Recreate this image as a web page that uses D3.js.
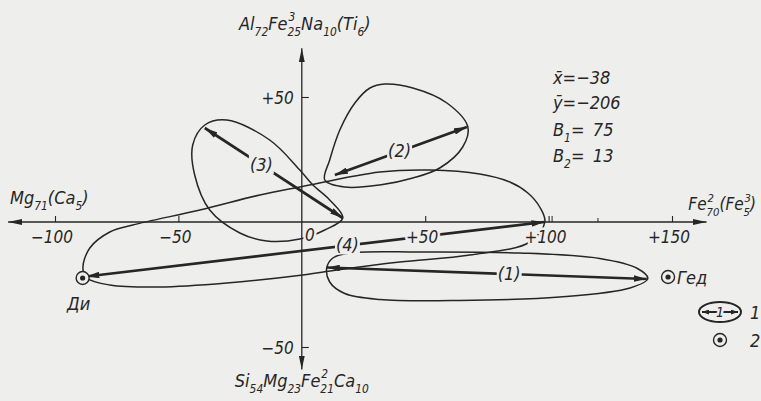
<!DOCTYPE html>
<html>
<head>
<meta charset="utf-8">
<script src="https://cdn.jsdelivr.net/npm/d3@7"></script>
<style>
  html, body { margin: 0; padding: 0; background: #eeeeec; }
  svg { display: block; }
  text { font-family: "Liberation Sans Narrow", "DejaVu Sans Condensed", sans-serif; font-style: italic; fill: #262626; }
</style>
</head>
<body>
<script>
// Tick values and labels of both axes
const xTickValues = [-100, -50, 50, 100, 150];
const xTickLabels = ["\u2212100", "\u221250", "+50", "+100", "+150"];
const xMinorTicks = [120];
const yTickValues = [50, -50];
const yTickLabels = ["+50", "\u221250"];

// Vectors: start and end point of each double-headed arrow
const vectorNames = ["(1)", "(2)", "(3)", "(4)"];
const vectorFrom = [[10.1, -18.2], [13.4, 18.8], [-39.3, 37.6], [-87.3, -21.8]];
const vectorTo   = [[139.8, -22.8], [66.9, 38.0], [16.6, 1.6], [98.3, 0]];
const labelAlong = [0.57, 0.49, 0.41, 0.57];

// Closed contours around each vector
const contour1 = [[10.1,-18.4],[12.6,-14.4],[19.4,-12.4],[47.8,-12],[88.3,-12.4],[120.7,-14.6],[136,-18.6],[140.2,-22.6],[133,-26.4],[104.5,-30],[64,-31.4],[31.6,-31],[17.4,-28.6],[11.3,-24]];
const contour2 = [[9.3,16.8],[11.3,24.8],[15.4,36.8],[21.5,47.6],[27.6,53.6],[33.6,55.2],[45,53.6],[58.8,47.6],[67.3,38],[65.2,30],[55.9,21.6],[45,17.6],[31.6,14.8],[17.4,14]];
const contour3 = [[16.6,1.6],[11.3,8.8],[4.5,14.8],[-0.8,20.8],[-13,32.8],[-30.4,40.8],[-39.3,38.8],[-44.2,30.8],[-43.4,18.8],[-37.3,4.8],[-25.1,-4.4],[-14.2,-7.6],[-0.8,-6.8],[9.3,-3.2]];
const contour4 = [[98.5,0],[96.4,6],[91.6,11.6],[84.3,16],[72.1,19.2],[51.9,20.8],[31.6,20],[-0.8,14],[-17,10.8],[-41.3,4.8],[-68.5,-1.2],[-77.8,-4],[-85.9,-10.4],[-88.7,-18.4],[-87.1,-22.4],[-77.8,-25.2],[-57.5,-26],[-30.4,-24.4],[0.4,-21.2],[14.2,-19.2],[39.7,-16],[68.1,-13.2],[92.4,-8]];
const contours = [contour1, contour2, contour3, contour4];

// End-member points
const pointNames = ["\u0414\u0438", "\u0413\u0435\u0434"];
const pointX = [-88.8, 148.4];
const pointY = [-22.4, -22.0];

// Statistics block
const statLines = [
  [{b: "x\u0304=\u221238"}],
  [{b: "y\u0304=\u2212206"}],
  [{b: "B", sub: "1"}, {b: "= \u200975"}],
  [{b: "B", sub: "2"}, {b: "= \u200913"}]
];

// Axis titles (base, subscript, superscript)
const titleTop = [{b: "Al", sub: "72"}, {b: "Fe", sub: "25", sup: "3"}, {b: "Na", sub: "10"}, {b: "(Ti", sub: "6"}, {b: ")"}];
const titleBottom = [{b: "Si", sub: "54"}, {b: " Mg", sub: "23"}, {b: "Fe", sub: "21", sup: "2"}, {b: "Ca", sub: "10"}];
const titleLeft = [{b: "Mg", sub: "71"}, {b: "(Ca", sub: "5"}, {b: ")"}];
const titleRight = [{b: "Fe", sub: "70", sup: "2"}, {b: "(Fe", sub: "5", sup: "3"}, {b: ")"}];

const W = 761, H = 401;
const INK = "#262626", BG = "#eeeeec";

const svg = d3.select("body").append("svg").attr("width", W).attr("height", H);
svg.append("rect").attr("width", W).attr("height", H).attr("fill", BG);

const x = d3.scaleLinear().domain([-100, 150]).range([55, 672]);
const y = d3.scaleLinear().domain([-50, 50]).range([347, 97]);

const defs = svg.append("defs");
function arrowMarker(id, len, wid) {
  defs.append("marker").attr("id", id)
    .attr("viewBox", `0 ${-wid / 2} ${len} ${wid}`)
    .attr("refX", len).attr("refY", 0)
    .attr("markerWidth", len).attr("markerHeight", wid)
    .attr("markerUnits", "userSpaceOnUse")
    .attr("orient", "auto-start-reverse")
    .append("path").attr("d", `M0,${-wid / 2}L${len},0L0,${wid / 2}Z`).attr("fill", INK);
}
arrowMarker("axisHead", 14, 6);
arrowMarker("vecHead", 13, 6.5);
arrowMarker("legHead", 7, 5);

// Axes lines with arrows
svg.append("line").attr("x1", x(-119)).attr("x2", x(164)).attr("y1", y(0)).attr("y2", y(0))
  .attr("stroke", INK).attr("stroke-width", 1.3)
  .attr("marker-start", "url(#axisHead)").attr("marker-end", "url(#axisHead)");
svg.append("line").attr("x1", x(0)).attr("x2", x(0)).attr("y1", y(69.5)).attr("y2", y(-59))
  .attr("stroke", INK).attr("stroke-width", 1.3)
  .attr("marker-start", "url(#axisHead)").attr("marker-end", "url(#axisHead)");

// Ticks through d3 axes (tick marks only; labels placed afterwards)
const xAxis = d3.axisBottom(x).tickValues(xTickValues).tickSizeInner(-6).tickSizeOuter(0).tickFormat("");
const gx = svg.append("g").attr("transform", `translate(0,${y(0)})`).call(xAxis);
gx.select(".domain").remove();
gx.selectAll(".tick line").attr("stroke", INK).attr("stroke-width", 1.1);
gx.selectAll(".tick").filter(d => d === 100).append("line").attr("x1", 3).attr("x2", 3).attr("y2", -6).attr("stroke", INK).attr("stroke-width", 1);
svg.selectAll(".minor").data(xMinorTicks).join("line")
  .attr("x1", d => x(d)).attr("x2", d => x(d)).attr("y1", y(0)).attr("y2", y(0) - 4)
  .attr("stroke", INK).attr("stroke-width", 1);

const yAxis = d3.axisLeft(y).tickValues(yTickValues).tickSizeInner(-7).tickSizeOuter(0).tickFormat("");
const gy = svg.append("g").attr("transform", `translate(${x(0)},0)`).call(yAxis);
gy.select(".domain").remove();
gy.selectAll(".tick line").attr("stroke", INK).attr("stroke-width", 1.1);

// Contours
const contourLine = d3.line().x(d => x(d[0])).y(d => y(d[1])).curve(d3.curveCatmullRomClosed.alpha(0.5));
svg.selectAll(".contour").data(contours).join("path")
  .attr("d", contourLine).attr("fill", "none").attr("stroke", INK).attr("stroke-width", 1.5);

// Vectors
svg.selectAll(".vec").data(vectorFrom).join("line")
  .attr("x1", d => x(d[0])).attr("y1", d => y(d[1]))
  .attr("x2", (d, i) => x(vectorTo[i][0])).attr("y2", (d, i) => y(vectorTo[i][1]))
  .attr("stroke", INK).attr("stroke-width", 2.7)
  .attr("marker-start", "url(#vecHead)").attr("marker-end", "url(#vecHead)");

// Labelled text with a paper-coloured halo that interrupts lines
function haloText(t) {
  return t.attr("stroke", BG).attr("stroke-width", 5).attr("paint-order", "stroke").attr("stroke-linejoin", "round");
}

// Vector names sit on a paper-coloured patch that breaks the arrow line
vectorNames.forEach((name, i) => {
  const f = vectorFrom[i], t = vectorTo[i], a = labelAlong[i];
  const px = x(f[0] + (t[0] - f[0]) * a), py = y(f[1] + (t[1] - f[1]) * a);
  const g = svg.append("g");
  const tx = g.append("text").attr("x", px).attr("y", py + 6).attr("text-anchor", "middle").attr("font-size", 18).text(name);
  const bb = tx.node().getBBox();
  g.insert("rect", "text").attr("x", bb.x - 1).attr("y", bb.y + 1).attr("width", bb.width + 2).attr("height", bb.height - 2).attr("fill", BG);
});

// Tick labels
xTickValues.forEach((v, i) => {
  haloText(svg.append("text").attr("x", x(v) - 3).attr("y", y(0) + 21).attr("text-anchor", "middle").attr("font-size", 17).text(xTickLabels[i]));
});
haloText(svg.append("text").attr("x", x(0) + 8).attr("y", y(0) + 19).attr("text-anchor", "middle").attr("font-size", 17).text("0"));
yTickValues.forEach((v, i) => {
  svg.append("text").attr("x", x(0) - 8).attr("y", y(v) + 7).attr("text-anchor", "end").attr("font-size", 17).text(yTickLabels[i]);
});

// End-member points
pointNames.forEach((n, i) => {
  const cx = x(pointX[i]), cy = y(pointY[i]);
  svg.append("circle").attr("cx", cx).attr("cy", cy).attr("r", 6.5).attr("fill", BG).attr("stroke", INK).attr("stroke-width", 1.4);
  svg.append("circle").attr("cx", cx).attr("cy", cy).attr("r", 2.6).attr("fill", INK);
});
svg.append("text").attr("x", x(pointX[0]) - 4).attr("y", y(pointY[0]) + 32).attr("text-anchor", "middle").attr("font-size", 18).text(pointNames[0]);
svg.append("text").attr("x", x(pointX[1]) + 9).attr("y", y(pointY[1]) + 7).attr("font-size", 18).text(pointNames[1]);

// Formula helper: base text with optional stacked sub/superscripts
function formula(parts, px, py, size, anchor) {
  const g = svg.append("g");
  let cx = 0;
  const small = size * 0.66;
  parts.forEach(p => {
    const b = g.append("text").attr("x", cx).attr("y", 0).attr("font-size", size).text(p.b);
    cx += b.node().getComputedTextLength();
    let w = 0;
    if (p.sub) {
      const s = g.append("text").attr("x", cx).attr("y", size * 0.36).attr("font-size", small).text(p.sub);
      w = Math.max(w, s.node().getComputedTextLength());
    }
    if (p.sup) {
      const s = g.append("text").attr("x", cx + 1).attr("y", -size * 0.5).attr("font-size", small).text(p.sup);
      w = Math.max(w, s.node().getComputedTextLength());
    }
    cx += w;
  });
  const shift = anchor === "middle" ? cx / 2 : anchor === "end" ? cx : 0;
  g.attr("transform", `translate(${px - shift},${py})`);
  return g;
}

formula(titleTop, x(0) + 3, 30, 18, "middle");
formula(titleBottom, x(0), 387, 18, "middle");
formula(titleLeft, 10, 204, 18, "start");
formula(titleRight, 756, 210, 17, "end");

statLines.forEach((ln, i) => {
  formula(ln, 553, [84, 109, 136, 162][i], 18, "start");
});

// Legend
const lg = svg.append("g").attr("transform", "translate(720,312)");
lg.append("ellipse").attr("rx", 21).attr("ry", 10).attr("fill", "none").attr("stroke", INK).attr("stroke-width", 2);
lg.append("line").attr("x1", -18).attr("x2", 18).attr("stroke", INK).attr("stroke-width", 2.2)
  .attr("marker-start", "url(#legHead)").attr("marker-end", "url(#legHead)");
haloText(lg.append("text").attr("x", 0).attr("y", 5).attr("text-anchor", "middle").attr("font-size", 14).attr("stroke-width", 3).text("1"));
lg.append("text").attr("x", 30).attr("y", 7).attr("font-size", 18).text("1");
const lg2 = svg.append("g").attr("transform", "translate(720,340)");
lg2.append("circle").attr("r", 6.5).attr("fill", "none").attr("stroke", INK).attr("stroke-width", 1.4);
lg2.append("circle").attr("r", 2.6).attr("fill", INK);
lg2.append("text").attr("x", 30).attr("y", 7).attr("font-size", 18).text("2");
</script>
</body>
</html>
